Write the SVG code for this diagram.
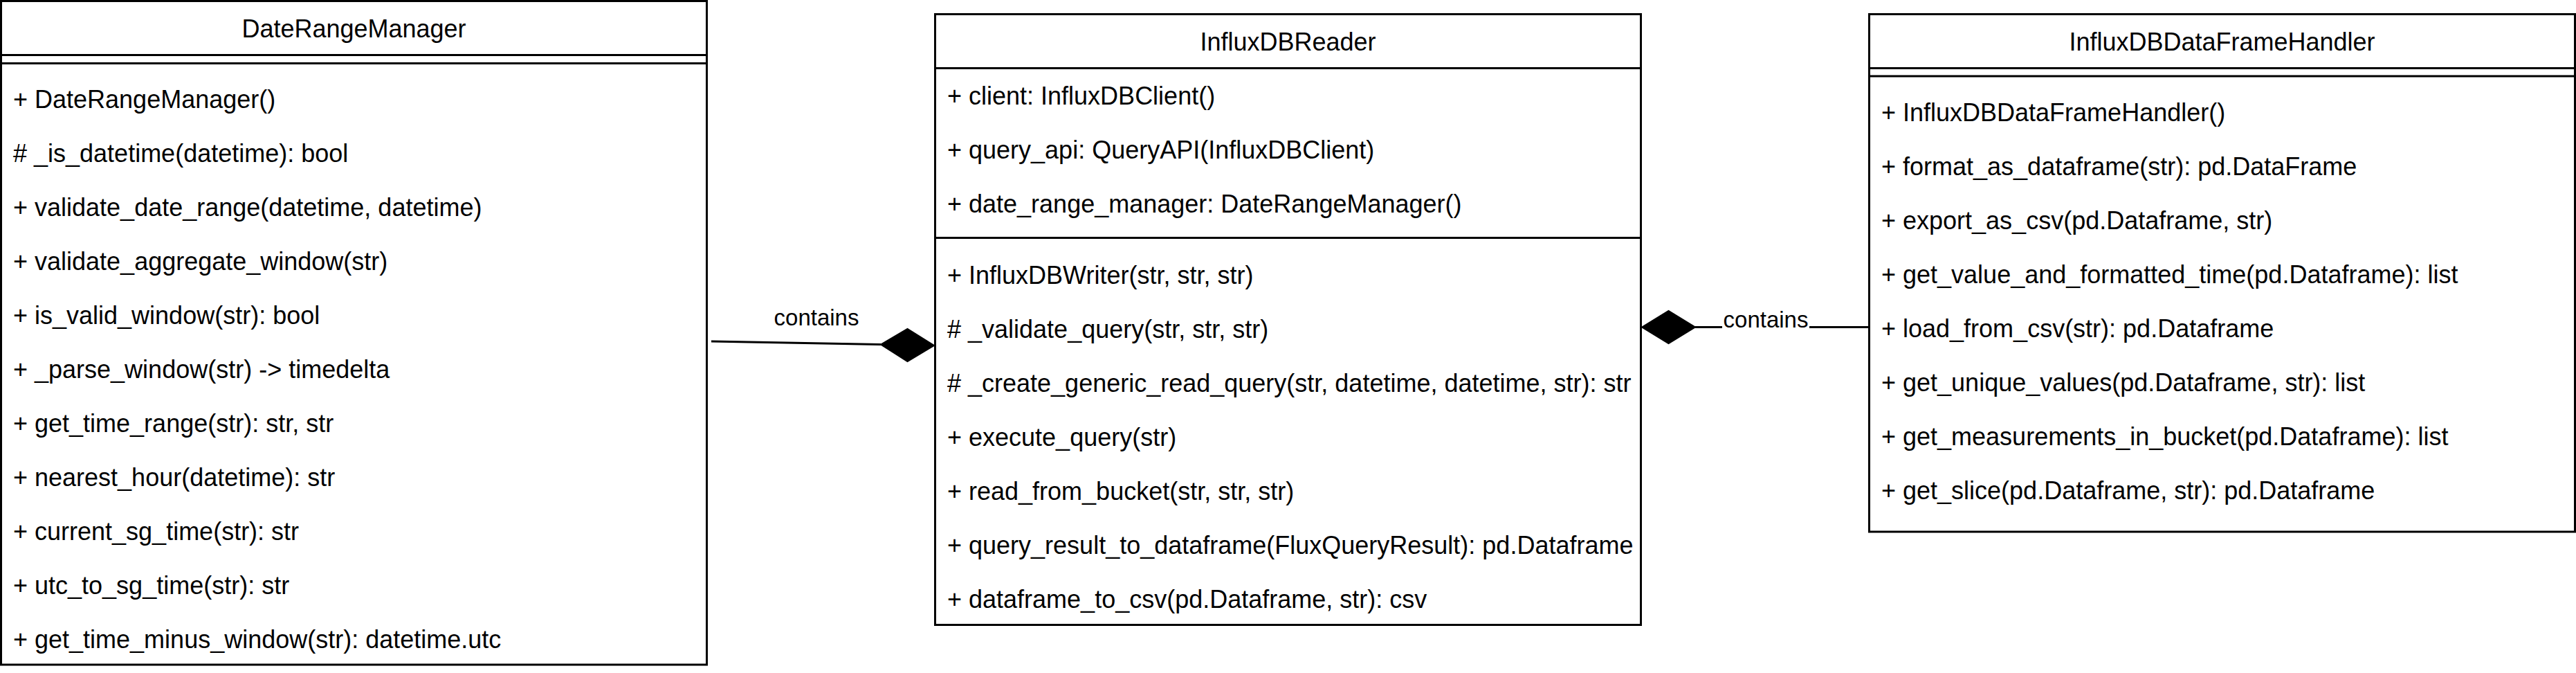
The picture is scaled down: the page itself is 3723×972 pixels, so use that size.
<svg xmlns="http://www.w3.org/2000/svg" width="3723" height="972" viewBox="0 0 3723 972">
<style>
.box{fill:#ffffff;stroke:#000000;stroke-width:3}
.ln{stroke:#000000;stroke-width:3;fill:none}
text{font-family:"Liberation Sans",Arial,Helvetica,sans-serif;fill:#000000}
.t{font-size:36px;text-anchor:middle}
.r{font-size:36px}
.lbl{font-size:33px;text-anchor:middle}
.dia{fill:#000000;stroke:#000000;stroke-width:2}
</style>
<rect x="0" y="0" width="3723" height="972" fill="#ffffff"/>
<g id="connectors">
  <g id="edge-reader-daterange">
    <line class="ln" x1="1028" y1="493" x2="1273" y2="497.5"/>
    <polygon class="dia" points="1273,497.5 1311.5,475 1350,499 1311.5,522"/>
    <text class="lbl" x="1180" y="470">contains</text>
  </g>
  <g id="edge-reader-handler">
    <line class="ln" x1="2450" y1="472.5" x2="2700" y2="472.5"/>
    <polygon class="dia" points="2373,472.5 2411.5,449 2450,472.5 2411.5,496"/>
    <rect x="2489" y="442" width="126" height="38" fill="#ffffff"/>
    <text class="lbl" x="2552" y="473">contains</text>
  </g>
</g>
<g id="DateRangeManager">
  <rect class="box" x="1.5" y="1.5" width="1020" height="958.5"/>
  <line class="ln" x1="1.5" y1="79.5" x2="1021.5" y2="79.5"/>
  <line class="ln" x1="1.5" y1="91.5" x2="1021.5" y2="91.5"/>
  <text class="t" x="511.5" y="53.5">DateRangeManager</text>
  <text class="r" x="19" y="155.5">+ DateRangeManager()</text>
  <text class="r" x="19" y="233.5"># _is_datetime(datetime): bool</text>
  <text class="r" x="19" y="311.5">+ validate_date_range(datetime, datetime)</text>
  <text class="r" x="19" y="389.5">+ validate_aggregate_window(str)</text>
  <text class="r" x="19" y="467.5">+ is_valid_window(str): bool</text>
  <text class="r" x="19" y="545.5">+ _parse_window(str) -&gt; timedelta</text>
  <text class="r" x="19" y="623.5">+ get_time_range(str): str, str</text>
  <text class="r" x="19" y="701.5">+ nearest_hour(datetime): str</text>
  <text class="r" x="19" y="779.5">+ current_sg_time(str): str</text>
  <text class="r" x="19" y="857.5">+ utc_to_sg_time(str): str</text>
  <text class="r" x="19" y="935.5">+ get_time_minus_window(str): datetime.utc</text>
</g>
<g id="InfluxDBReader">
  <rect class="box" x="1351.5" y="20.5" width="1020" height="882"/>
  <line class="ln" x1="1351.5" y1="98.5" x2="2371.5" y2="98.5"/>
  <line class="ln" x1="1351.5" y1="343.5" x2="2371.5" y2="343.5"/>
  <text class="t" x="1861.5" y="72.5">InfluxDBReader</text>
  <text class="r" x="1369" y="150.5">+ client: InfluxDBClient()</text>
  <text class="r" x="1369" y="228.5">+ query_api: QueryAPI(InfluxDBClient)</text>
  <text class="r" x="1369" y="306.5">+ date_range_manager: DateRangeManager()</text>
  <text class="r" x="1369" y="409.5">+ InfluxDBWriter(str, str, str)</text>
  <text class="r" x="1369" y="487.5"># _validate_query(str, str, str)</text>
  <text class="r" x="1369" y="565.5"># _create_generic_read_query(str, datetime, datetime, str): str</text>
  <text class="r" x="1369" y="643.5">+ execute_query(str)</text>
  <text class="r" x="1369" y="721.5">+ read_from_bucket(str, str, str)</text>
  <text class="r" x="1369" y="799.5">+ query_result_to_dataframe(FluxQueryResult): pd.Dataframe</text>
  <text class="r" x="1369" y="877.5">+ dataframe_to_csv(pd.Dataframe, str): csv</text>
</g>
<g id="InfluxDBDataFrameHandler">
  <rect class="box" x="2701.5" y="20.5" width="1020" height="747.5"/>
  <line class="ln" x1="2701.5" y1="98.5" x2="3721.5" y2="98.5"/>
  <line class="ln" x1="2701.5" y1="110" x2="3721.5" y2="110"/>
  <text class="t" x="3211.5" y="72.5">InfluxDBDataFrameHandler</text>
  <text class="r" x="2719" y="174.5">+ InfluxDBDataFrameHandler()</text>
  <text class="r" x="2719" y="252.5">+ format_as_dataframe(str): pd.DataFrame</text>
  <text class="r" x="2719" y="330.5">+ export_as_csv(pd.Dataframe, str)</text>
  <text class="r" x="2719" y="408.5">+ get_value_and_formatted_time(pd.Dataframe): list</text>
  <text class="r" x="2719" y="486.5">+ load_from_csv(str): pd.Dataframe</text>
  <text class="r" x="2719" y="564.5">+ get_unique_values(pd.Dataframe, str): list</text>
  <text class="r" x="2719" y="642.5">+ get_measurements_in_bucket(pd.Dataframe): list</text>
  <text class="r" x="2719" y="720.5">+ get_slice(pd.Dataframe, str): pd.Dataframe</text>
</g>
</svg>
